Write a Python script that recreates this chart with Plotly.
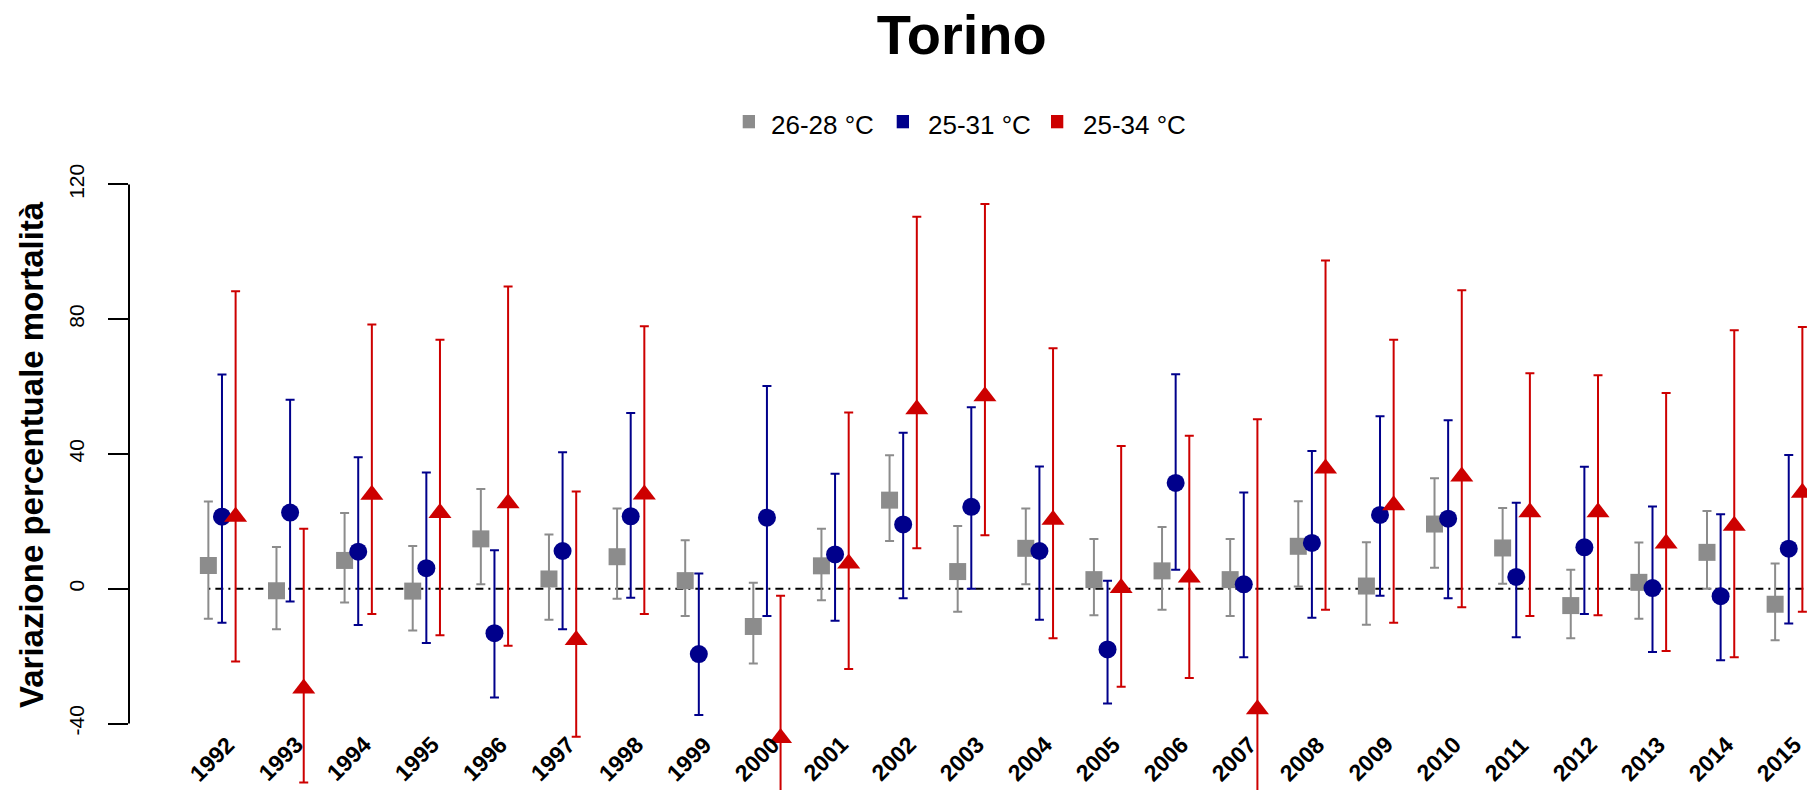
import plotly.graph_objects as go

# ---------------- data ----------------
years = list(range(1992, 2016))
year_labels = [str(y) for y in years]

g_pt = [6.9, -0.6, 8.4, -0.7, 14.8, 2.9, 9.5, 2.4, -11.2, 6.8, 26.3, 5.1, 12.0, 2.7, 5.3, 2.7, 12.6, 0.8, 19.2, 12.1, -5.0, 1.9, 10.8, -4.6]
g_lo = [-8.9, -12.0, -4.1, -12.4, 1.3, -9.2, -3.0, -8.1, -22.2, -3.4, 14.2, -6.8, 1.3, -7.9, -6.2, -8.1, 0.7, -10.7, 6.2, 1.5, -14.7, -8.9, 0.0, -15.3]
g_hi = [25.9, 12.4, 22.5, 12.7, 29.6, 16.1, 23.8, 14.4, 1.8, 17.8, 39.6, 18.6, 23.8, 14.8, 18.3, 14.8, 26.0, 13.8, 32.8, 24.0, 5.6, 13.7, 23.1, 7.5]

b_pt = [21.4, 22.6, 11.0, 6.1, -13.2, 11.2, 21.5, -19.4, 21.1, 10.2, 19.1, 24.3, 11.2, -18.0, 31.4, 1.3, 13.6, 21.9, 20.8, 3.5, 12.3, 0.2, -2.2, 11.9]
b_lo = [-10.1, -3.8, -10.8, -16.1, -32.3, -12.0, -2.7, -37.5, -8.1, -9.5, -2.8, 0.0, -9.2, -34.1, 5.6, -20.3, -8.6, -2.1, -2.8, -14.4, -7.5, -18.8, -21.2, -10.3]
b_hi = [63.6, 56.1, 39.0, 34.5, 11.4, 40.5, 52.2, 4.5, 60.2, 34.1, 46.3, 53.9, 36.3, 2.4, 63.7, 28.6, 40.9, 51.2, 50.0, 25.5, 36.2, 24.4, 22.1, 39.7]

r_pt = [21.4, -29.6, 27.9, 22.5, 25.4, -15.2, 28.0, None, -44.3, 7.5, 53.3, 57.1, 20.5, 0.2, 3.3, -35.8, 35.7, 24.8, 33.3, 22.7, 22.7, 13.4, 18.7, 28.5]
r_lo = [-21.6, -57.5, -7.5, -13.8, -16.9, -43.9, -7.5, None, -75.0, -23.8, 12.0, 15.9, -14.7, -29.1, -26.5, -80.0, -6.2, -10.1, -5.5, -8.1, -7.9, -18.5, -20.3, -6.8]
r_hi = [88.3, 17.8, 78.4, 73.9, 89.7, 28.9, 77.9, None, -2.1, 52.3, 110.4, 114.2, 71.4, 42.4, 45.4, 50.3, 97.4, 73.9, 88.6, 64.0, 63.4, 58.1, 76.7, 77.7]

series_names = ["26-28 °C", "25-31 °C", "25-34 °C"]
y_ticks = [-40, 0, 40, 80, 120]

# ---------------- style / layout constants ----------------
W, H = 1807, 790
ML, MR, MT, MB = 129, 0, 150, 0
PW, PH = W - ML - MR, H - MT - MB
X_RANGE = [1990.635, 2015.268]
Y_RANGE = [-59.74, 130.23]

GRAY = "#8C8C8C"
BLUE = "#00008B"
RED = "#CD0000"
FONT = "Liberation Sans, Arial, sans-serif"


def px_x(px):
    return (px - ML) / PW


def px_y(py):
    return (H - MB - py) / PH


def val_y(v):
    return (v - Y_RANGE[0]) / (Y_RANGE[1] - Y_RANGE[0])


def err(pt, lo, hi):
    plus = [None if p is None else h - p for p, h in zip(pt, hi)]
    minus = [None if p is None else p - l for p, l in zip(pt, lo)]
    return plus, minus


fig = go.Figure()

specs = [
    (g_pt, g_lo, g_hi, -0.2, GRAY, "square", 17),
    (b_pt, b_lo, b_hi, 0.0, BLUE, "circle", 18),
    (r_pt, r_lo, r_hi, 0.2, RED, "triangle-up", 20),
]
for (pt, lo, hi, off, col, sym, size), name in zip(specs, series_names):
    plus, minus = err(pt, lo, hi)
    fig.add_trace(go.Scatter(
        x=[y + off for y in years], y=pt, mode="markers", name=name,
        marker=dict(symbol=sym, size=size, color=col, line=dict(width=0)),
        error_y=dict(type="data", symmetric=False, array=plus, arrayminus=minus,
                     color=col, thickness=2, width=4.5),
        showlegend=False, cliponaxis=True,
    ))

# zero reference line
fig.add_shape(type="line", xref="x", yref="y", x0=years[0] - 0.2, x1=X_RANGE[1],
              y0=0, y1=0, line=dict(color="black", width=2, dash="2px,5px,8px,5px"),
              layer="below")

# y axis line (only between first and last tick)
fig.add_shape(type="line", xref="paper", yref="paper", x0=0, x1=0,
              y0=val_y(y_ticks[0]), y1=val_y(y_ticks[-1]),
              line=dict(color="black", width=2))

annotations = []
# year labels
for y, lab in zip(years, year_labels):
    annotations.append(dict(x=y, y=-50.4, xref="x", yref="y", text="<b>" + lab + "</b>",
                            showarrow=False, textangle=-45, xshift=-10,
                            font=dict(family=FONT, size=23, color="black")))

# y axis title
annotations.append(dict(x=px_x(31), y=px_y(455), xref="paper", yref="paper",
                        text="<b>Variazione percentuale mortalità</b>", showarrow=False,
                        textangle=-90, xanchor="center", yanchor="middle",
                        font=dict(family=FONT, size=33, color="black")))

# legend (manual)
leg_sq = [(742.7, 755.0), (896.7, 909.0), (1051.0, 1063.3)]
leg_tx = [770.0, 927.3, 1081.7]
for (x0, x1), tx, col, name in zip(leg_sq, leg_tx, [GRAY, BLUE, RED], series_names):
    fig.add_shape(type="rect", xref="paper", yref="paper",
                  x0=px_x(x0), x1=px_x(x1), y0=px_y(128.3), y1=px_y(115.0),
                  fillcolor=col, line=dict(width=0))
    annotations.append(dict(x=px_x(tx - 1), y=px_y(125.5), xref="paper", yref="paper",
                            text=name, showarrow=False, xanchor="left", yanchor="middle",
                            font=dict(family=FONT, size=26, color="black")))

fig.update_layout(
    width=W, height=H,
    margin=dict(l=ML, r=MR, t=MT, b=MB, pad=0),
    paper_bgcolor="white", plot_bgcolor="white",
    title=dict(text="Torino", x=px_x(961.7), xref="paper", xanchor="center",
               y=1 - 34 / H, yref="container", yanchor="middle",
               font=dict(family=FONT, size=56, color="black", weight="bold")),
    xaxis=dict(range=X_RANGE, showgrid=False, zeroline=False, showline=False,
               showticklabels=False, ticks=""),
    yaxis=dict(range=Y_RANGE, tickvals=y_ticks, ticktext=[str(v) for v in y_ticks],
               showgrid=False, zeroline=False, showline=False,
               ticks="outside", ticklen=20, tickwidth=2, tickcolor="black",
               tickangle=-90, ticklabelstandoff=16,
               tickfont=dict(family=FONT, size=21, color="black")),
    annotations=annotations,
    showlegend=False,
)

fig.write_html("out.html", config={"displayModeBar": False},
               post_script="document.body.style.margin='0';document.body.style.padding='0';")
